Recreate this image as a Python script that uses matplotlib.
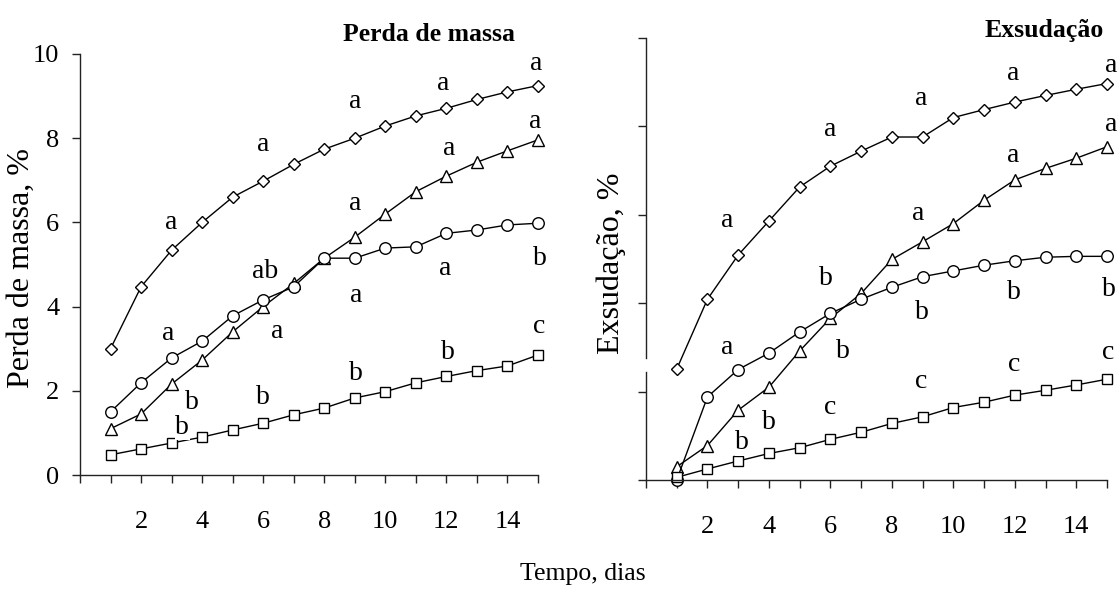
import matplotlib
matplotlib.use("Agg")
import matplotlib.pyplot as plt

# ---------------- data ----------------
dias = list(range(1, 16))

perda_losango = [3.0, 4.47, 5.34, 6.0, 6.6, 6.98, 7.38, 7.74, 8.0, 8.29, 8.53, 8.71, 8.92, 9.1, 9.25]
perda_triangulo = [1.1, 1.45, 2.16, 2.73, 3.4, 4.0, 4.55, 5.15, 5.65, 6.2, 6.73, 7.1, 7.43, 7.7, 7.96]
perda_circulo = [1.5, 2.19, 2.78, 3.18, 3.78, 4.16, 4.47, 5.15, 5.15, 5.39, 5.42, 5.74, 5.82, 5.94, 5.98]
perda_quadrado = [0.48, 0.62, 0.76, 0.9, 1.07, 1.23, 1.43, 1.59, 1.83, 1.98, 2.19, 2.34, 2.48, 2.59, 2.85]

exs_losango = [2.51, 4.09, 5.09, 5.86, 6.63, 7.1, 7.44, 7.76, 7.76, 8.2, 8.38, 8.55, 8.7, 8.84, 8.97]
exs_triangulo = [0.3, 0.78, 1.58, 2.1, 2.92, 3.66, 4.22, 4.99, 5.39, 5.8, 6.33, 6.79, 7.05, 7.28, 7.54]
exs_circulo = [0.0, 1.88, 2.5, 2.87, 3.35, 3.77, 4.09, 4.36, 4.6, 4.73, 4.86, 4.96, 5.04, 5.06, 5.06]
exs_quadrado = [0.06, 0.25, 0.43, 0.6, 0.73, 0.92, 1.08, 1.28, 1.43, 1.64, 1.76, 1.92, 2.03, 2.15, 2.28]

# significance letters (day, value, letter)
perda_letra_x = [3.0, 6.0, 9.0, 11.9, 14.95, 12.1, 14.9, 9.0, 6.05, 15.05, 11.95, 9.05, 2.9, 6.45, 3.65, 6.0, 3.35, 9.05, 12.05, 15.05]
perda_letra_y = [6.0, 7.84, 8.86, 9.3, 9.78, 7.76, 8.4, 6.45, 4.83, 5.15, 4.9, 4.27, 3.37, 3.4, 1.73, 1.83, 1.14, 2.42, 2.9, 3.52]
perda_letra_t = ["a", "a", "a", "a", "a", "a", "a", "a", "ab", "b", "a", "a", "a", "a", "b", "b", "b", "b", "b", "c"]

exs_letra_x = [2.65, 6.0, 8.95, 11.95, 15.15, 15.15, 11.95, 8.85, 5.85, 11.97, 15.05, 8.98, 2.64, 6.42, 11.97, 8.94, 15.05, 6.0, 4.0, 3.12]
exs_letra_y = [5.88, 7.92, 8.62, 9.2, 9.38, 8.05, 7.35, 6.04, 4.57, 4.25, 4.3, 3.78, 2.99, 2.9, 2.62, 2.22, 2.88, 1.63, 1.31, 0.84]
exs_letra_t = ["a", "a", "a", "a", "a", "a", "a", "a", "b", "b", "b", "b", "a", "b", "c", "c", "c", "c", "b", "b"]

xticks = list(range(0, 16))
xticklabels = ["" if (t % 2 or t == 0) else str(t) for t in xticks]
perda_yticks = [0, 2, 4, 6, 8, 10]
exs_yticks = [0, 2, 4, 6, 8, 10]

# ---------------- style ----------------
SERIF = ["Liberation Serif", "DejaVu Serif"]
plt.rcParams["font.family"] = SERIF
W, H = 1117, 590
fig = plt.figure(figsize=(W / 100, H / 100), dpi=100)

axL = fig.add_axes([80 / W, 1 - 475 / H, (538 - 80) / W, (475 - 54) / H])
axR = fig.add_axes([646 / W, 1 - 480 / H, (1107 - 646) / W, (480 - 38) / H])

series_style = [
    ("D", 6.3),
    ("^", 9.0),
    ("o", 8.3),
    ("s", 7.5),
]


def draw(ax, series, lx, ly, lt, yticks, ylabels):
    for (m, ms), vals in zip(series_style, series):
        ax.plot(dias, vals, color="black", lw=1.0, marker=m, ms=ms,
                mfc="white", mec="black", mew=1.0, zorder=2, clip_on=False)
    for x, y, t in zip(lx, ly, lt):
        ax.text(x, y, t, ha="center", va="center", fontsize=20, zorder=3,
                bbox=dict(fc="white", ec="none", pad=0.1), clip_on=False)
    ax.set_xlim(0, 15)
    ax.set_ylim(0, 10)
    ax.set_xticks(xticks)
    ax.set_xticklabels(xticklabels)
    ax.set_yticks(yticks)
    if ylabels:
        ax.set_yticklabels([str(v) for v in yticks])
    else:
        ax.set_yticklabels([])
    for s in ("top", "right"):
        ax.spines[s].set_visible(False)
    for s in ("left", "bottom"):
        ax.spines[s].set_color("#222222")
        ax.spines[s].set_linewidth(1.0)
    ax.tick_params(axis="x", direction="out", length=6, width=1.0, color="#222222",
                   pad=20, labelsize=19)
    ax.tick_params(axis="y", direction="out", length=6, width=1.0, color="#222222",
                   pad=9, labelsize=19)
    ax.patch.set_visible(False)


draw(axL, [perda_losango, perda_triangulo, perda_circulo, perda_quadrado],
     perda_letra_x, perda_letra_y, perda_letra_t, perda_yticks, True)
draw(axR, [exs_losango, exs_triangulo, exs_circulo, exs_quadrado],
     exs_letra_x, exs_letra_y, exs_letra_t, exs_yticks, False)

# broken left spine on right panel
axR.spines["left"].set_visible(False)
tr = axR.get_yaxis_transform()
axR.plot([0, 0], [0, 2.44], transform=tr, color="#222222", lw=1.0, clip_on=False, zorder=1)
axR.plot([0, 0], [2.76, 10], transform=tr, color="#222222", lw=1.0, clip_on=False, zorder=1)


def fx(px):
    return px / W


def fy(py):
    return 1 - py / H


fig.text(fx(429), fy(41), "Perda de massa", ha="center", va="baseline",
         fontsize=18.5, fontweight="bold")
fig.text(fx(1044), fy(37), "Exsudação", ha="center", va="baseline",
         fontsize=18.5, fontweight="bold")
fig.text(fx(583), fy(580), "Tempo, dias", ha="center", va="baseline", fontsize=18.5)
fig.text(fx(21), fy(268), "Perda de massa, %", rotation=90, ha="center", va="center",
         fontsize=23)
fig.text(fx(611), fy(263), "Exsudação, %", rotation=90, ha="center", va="center",
         fontsize=23)

fig.savefig("out.png", dpi=100)
